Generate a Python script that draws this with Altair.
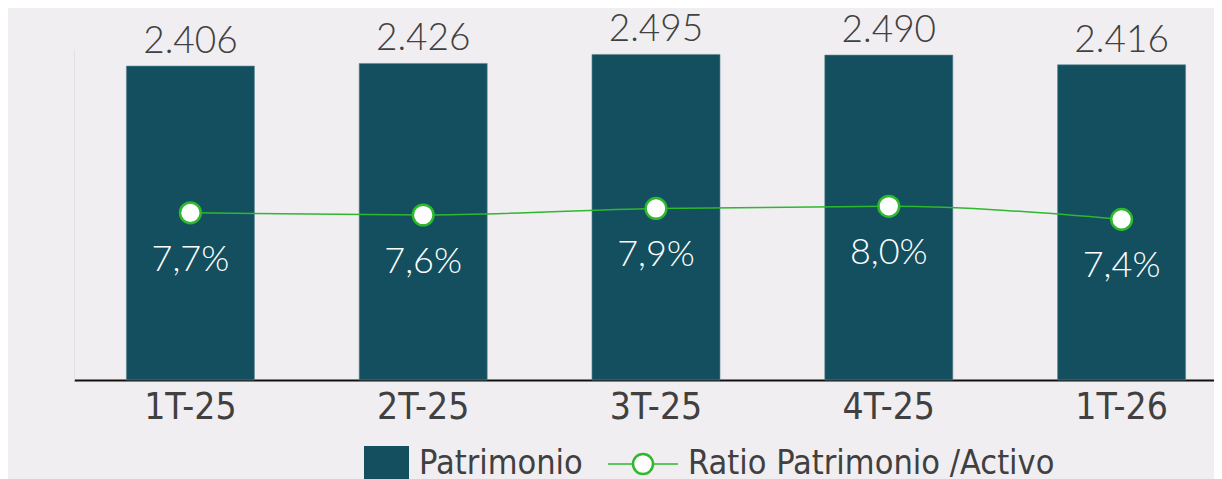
import altair as alt
import pandas as pd

periodos = ["1T-25", "2T-25", "3T-25", "4T-25", "1T-26"]
patrimonio = [2.406, 2.426, 2.495, 2.490, 2.416]
ratio = [7.7, 7.6, 7.9, 8.0, 7.4]

df = pd.DataFrame({
    "periodo": periodos,
    "patrimonio": patrimonio,
    "ratio": ratio,
    "lab_pat": [f"{v:.3f}" for v in patrimonio],
    "lab_ratio": [f"{v:.1f}".replace(".", ",") + "%" for v in ratio],
})

BAR = "#134F5F"
GREEN = "#2DB82D"
TXT = "#404040"
BG = "#F0EEF1"
NUM_FONT = "Lato"
AX_FONT = "DejaVu Sans Condensed, Roboto Condensed, sans-serif"

x = alt.X("periodo:N", sort=periodos, title=None,
          scale=alt.Scale(paddingInner=0.45, paddingOuter=0.225, range=[0, 1164]),
          axis=alt.Axis(labelAngle=0, labelFont=AX_FONT, labelFontSize=37, labelColor=TXT,
                        domainColor="#111111", domainWidth=2, ticks=False, labelPadding=9))
y1 = alt.Y("patrimonio:Q", scale=alt.Scale(domain=[0, 2.529], nice=False, zero=True),
           axis=alt.Axis(title=None, labels=False, ticks=False, grid=False,
                         domainColor="#E2E0E4", domainWidth=1))
y2 = alt.Y("ratio:Q", scale=alt.Scale(domain=[0, 15.2], nice=False, zero=True), axis=None)

base = alt.Chart(df).encode(x=x)

bars = base.mark_bar(color=BAR, stroke="#5E8A96", strokeWidth=0.6).encode(y=y1)
bar_lab = base.mark_text(font=NUM_FONT, fontSize=37, fontWeight=300, color=TXT, baseline="alphabetic", dy=-13).encode(
    y=y1, text="lab_pat:N")

line = base.mark_line(color=GREEN, strokeWidth=1.5, interpolate="monotone").encode(y=y2)
pts = base.mark_point(shape="circle", filled=True, fill="white", stroke=GREEN, strokeWidth=2.5,
                      size=430, opacity=1).encode(y=y2)
r_lab = base.mark_text(font=NUM_FONT, fontSize=36, fontWeight=300, color="white", baseline="middle", dy=47).encode(
    y=y2, text="lab_ratio:N")

# legend
leg_df = pd.DataFrame({"k": [0]})
leg = alt.Chart(leg_df)
sw = leg.mark_rect(color=BAR).encode(x=alt.value(290), x2=alt.value(335), y=alt.value(396), y2=alt.value(440))
t1 = leg.mark_text(text="Patrimonio", font=AX_FONT, fontSize=34, color=TXT, align="left",
                   baseline="middle").encode(x=alt.value(345), y=alt.value(414))
ln = leg.mark_rule(color=GREEN, strokeWidth=1.5).encode(x=alt.value(534), x2=alt.value(604), y=alt.value(414))
cp = leg.mark_point(shape="circle", filled=True, fill="white", stroke=GREEN, strokeWidth=2.5,
                    size=400, opacity=1).encode(x=alt.value(569), y=alt.value(414))
t2 = leg.mark_text(text="Ratio Patrimonio /Activo", font=AX_FONT, fontSize=34, color=TXT, align="left",
                   baseline="middle").encode(x=alt.value(614), y=alt.value(414))

left = alt.layer(bars, bar_lab)
right = alt.layer(line, pts, r_lab)
chart = alt.layer(left, right, sw, t1, ln, cp, t2).resolve_scale(y="independent").properties(
    width=1140, height=330,
    padding={"left": 66, "top": 42, "right": 0, "bottom": 99},
    autosize=alt.AutoSizeParams(type="none"),
    background=BG,
).configure_view(stroke=None)

chart.save("out.html", embed_options={"renderer": "svg", "actions": False})
